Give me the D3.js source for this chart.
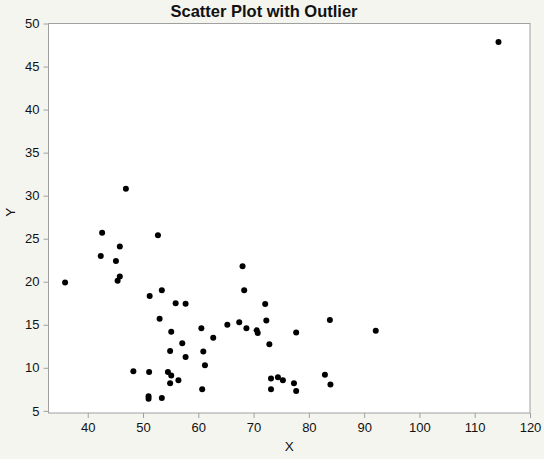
<!DOCTYPE html>
<html>
<head>
<meta charset="utf-8">
<script src="https://cdn.jsdelivr.net/npm/d3@7"></script>
<style>
  html, body { margin: 0; padding: 0; background: #f5f5f0; }
  svg { display: block; }
  text { font-family: "Liberation Sans", Arial, Helvetica, sans-serif; fill: #111; }
</style>
</head>
<body>
<svg id="chart" width="544" height="459"></svg>
<script>
const xValues = [35.9, 42.6, 42.35, 45.1, 45.4, 45.8, 45.8, 46.9, 48.25, 51.2, 51.1, 51.0, 51.0, 52.7, 53.0, 53.4, 53.4, 54.5, 54.9, 54.9, 55.1, 55.1, 55.9, 56.4, 57.1, 57.7, 57.7, 60.55, 60.7, 60.9, 61.2, 62.7, 65.25, 67.4, 68.0, 68.3, 68.7, 70.55, 70.75, 72.1, 72.3, 72.85, 73.15, 73.15, 74.4, 75.3, 77.3, 77.7, 77.7, 82.9, 83.8, 83.9, 92.1, 114.3];
const yValues = [19.9, 25.7, 23.0, 22.4, 20.1, 20.6, 24.1, 30.8, 9.6, 18.35, 9.5, 6.7, 6.4, 25.4, 15.7, 19.0, 6.5, 9.5, 11.95, 8.2, 14.2, 9.1, 17.5, 8.55, 12.85, 17.45, 11.25, 14.6, 7.5, 11.9, 10.3, 13.5, 15.0, 15.3, 21.8, 19.0, 14.6, 14.35, 14.05, 17.4, 15.5, 12.75, 8.75, 7.5, 8.9, 8.55, 8.2, 14.1, 7.3, 9.2, 15.55, 8.05, 14.3, 47.85];
const xTicks = [40, 50, 60, 70, 80, 90, 100, 110, 120];
const yTicks = [5, 10, 15, 20, 25, 30, 35, 40, 45, 50];
const title = "Scatter Plot with Outlier";
const xLabel = "X";
const yLabel = "Y";

(function () {
  const points = xValues.map((x, i) => ({x, y: yValues[i]}));

  const svg = d3.select("#chart");
  const pl = 48.5, pr = 530, pt = 23.5, pb = 413;

  const x = d3.scaleLinear().domain([32.9, 120]).range([pl, pr]);
  const y = d3.scaleLinear().domain([4.75, 50]).range([pb, pt]);

  svg.append("rect")
    .attr("x", pl).attr("y", pt)
    .attr("width", pr - pl).attr("height", pb - pt)
    .attr("fill", "#ffffff").attr("stroke", "#a0a0a0").attr("stroke-width", 1);

  const xAxis = svg.append("g")
    .attr("transform", `translate(0,${pb})`)
    .call(d3.axisBottom(x).tickValues(xTicks).tickSize(5).tickPadding(5).tickFormat(d3.format("d")));
  const yAxis = svg.append("g")
    .attr("transform", `translate(${pl},0)`)
    .call(d3.axisLeft(y).tickValues(yTicks).tickSize(5).tickPadding(4).tickFormat(d3.format("d")));

  [xAxis, yAxis].forEach(g => {
    g.select(".domain").remove();
    g.selectAll(".tick line").attr("stroke", "#a0a0a0");
    g.selectAll(".tick text")
      .style("font-family", '"Liberation Sans", Arial, Helvetica, sans-serif')
      .style("font-size", "13px").attr("fill", "#111");
  });

  svg.append("g").selectAll("circle")
    .data(points).join("circle")
    .attr("cx", d => x(d.x)).attr("cy", d => y(d.y))
    .attr("r", 3).attr("fill", "#000");

  svg.append("text")
    .attr("x", 264).attr("y", 17)
    .attr("text-anchor", "middle")
    .style("font-size", "16.5px").style("font-weight", "bold")
    .text(title);

  svg.append("text")
    .attr("x", (pl + pr) / 2).attr("y", 451)
    .attr("text-anchor", "middle")
    .style("font-size", "13.5px")
    .text(xLabel);

  svg.append("text")
    .attr("transform", `translate(15,${(pt + pb) / 2 - 6}) rotate(-90)`)
    .attr("text-anchor", "middle")
    .style("font-size", "13.5px")
    .text(yLabel);
})();
</script>
</body>
</html>
